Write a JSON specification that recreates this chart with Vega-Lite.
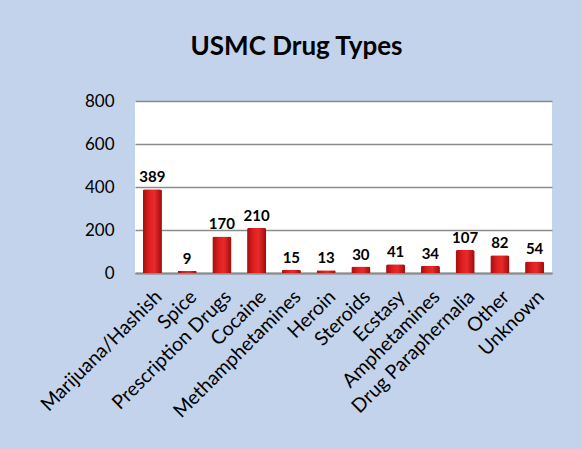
{
  "$schema": "https://vega.github.io/schema/vega-lite/v6.json",
  "width": 417,
  "height": 172,
  "autosize": {"type": "none"},
  "padding": {"left": 135, "top": 101, "right": 30, "bottom": 176},
  "background": "#c3d3eb",
  "title": {
    "text": "USMC Drug Types",
    "font": "Lato",
    "fontSize": 26,
    "fontWeight": "bold",
    "color": "#000000",
    "anchor": "middle",
    "dx": -47,
    "offset": 32
  },
  "config": {
    "view": {"fill": "#ffffff", "stroke": null},
    "font": "Lato"
  },
  "data": {
    "values": [
      {"type": "Marijuana/Hashish", "count": 389},
      {"type": "Spice", "count": 9},
      {"type": "Prescription Drugs", "count": 170},
      {"type": "Cocaine", "count": 210},
      {"type": "Methamphetamines", "count": 15},
      {"type": "Heroin", "count": 13},
      {"type": "Steroids", "count": 30},
      {"type": "Ecstasy", "count": 41},
      {"type": "Amphetamines", "count": 34},
      {"type": "Drug Paraphernalia", "count": 107},
      {"type": "Other", "count": 82},
      {"type": "Unknown", "count": 54}
    ]
  },
  "encoding": {
    "x": {
      "field": "type",
      "type": "nominal",
      "sort": null,
      "scale": {"paddingInner": 0.45, "paddingOuter": 0.225},
      "axis": {
        "title": null,
        "labelAngle": -45,
        "labelFontSize": 19.5,
        "labelColor": "#000000",
        "labelFont": "Lato",
        "ticks": false,
        "domainColor": "#8a8a8a",
        "domainWidth": 2,
        "labelPadding": 14
      }
    },
    "y": {
      "field": "count",
      "type": "quantitative",
      "scale": {"domain": [0, 800]},
      "axis": {
        "title": null,
        "values": [0, 200, 400, 600, 800],
        "labelFontSize": 17,
        "labelColor": "#000000",
        "labelFont": "Lato",
        "ticks": false,
        "domain": false,
        "labelPadding": 21,
        "gridColor": "#8c8c8c",
        "gridWidth": 1.5
      }
    }
  },
  "layer": [
    {
      "mark": {
        "type": "bar",
        "cornerRadiusTopLeft": 2,
        "cornerRadiusTopRight": 2,
        "fill": {
          "gradient": "linear",
          "x1": 0, "x2": 1, "y1": 0, "y2": 0,
          "stops": [
            {"offset": 0, "color": "#a50d0d"},
            {"offset": 0.35, "color": "#e02020"},
            {"offset": 0.6, "color": "#e82a2a"},
            {"offset": 1, "color": "#a00b0b"}
          ]
        }
      }
    },
    {
      "mark": {
        "type": "text",
        "baseline": "alphabetic",
        "dy": -7,
        "fontSize": 15,
        "fontWeight": "bold",
        "font": "Lato",
        "color": "#000000"
      },
      "encoding": {"text": {"field": "count", "type": "quantitative"}}
    }
  ]
}
